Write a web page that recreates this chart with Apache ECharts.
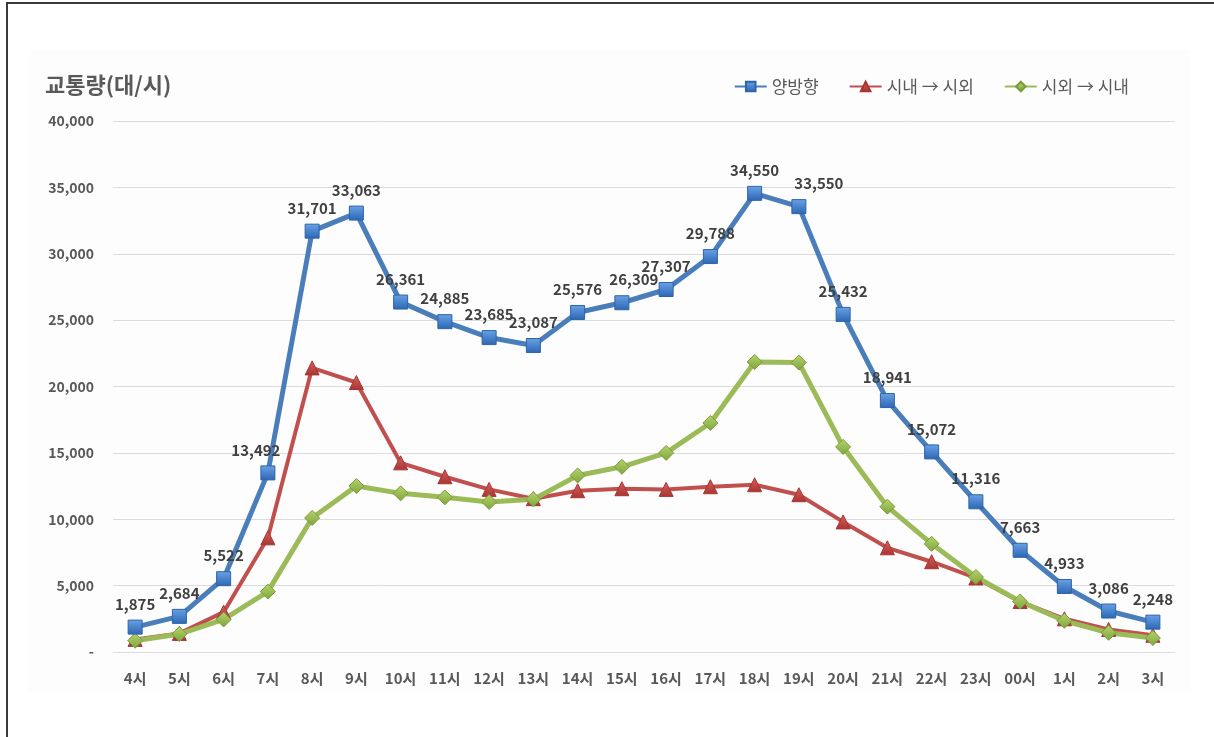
<!DOCTYPE html>
<html>
<head>
<meta charset="utf-8">
<script src="https://cdn.jsdelivr.net/npm/echarts@6/dist/echarts.min.js"></script>
<style>
  html, body { margin: 0; padding: 0; background: #fff; }
  #wrap { position: relative; width: 1214px; height: 737px; overflow: hidden; }
  #frame { position: absolute; left: 6px; top: 2px; width: 1220px; height: 760px;
           border-left: 2px solid #3a3a3a; border-top: 2px solid #3a3a3a; box-sizing: border-box; }
  #chart { position: absolute; left: 0; top: 0; width: 1214px; height: 737px; }
</style>
</head>
<body>
<div id="wrap">
  <div id="chart"></div>
  <div id="frame"></div>
</div>
<script>
// 시간대
const hours = ['4시', '5시', '6시', '7시', '8시', '9시', '10시', '11시', '12시', '13시', '14시', '15시',
  '16시', '17시', '18시', '19시', '20시', '21시', '22시', '23시', '00시', '1시', '2시', '3시'];

// 양방향 (라벨 값)
const bothWays = [1875, 2684, 5522, 13492, 31701, 33063, 26361, 24885, 23685, 23087, 25576, 26309,
  27307, 29788, 34550, 33550, 25432, 18941, 15072, 11316, 7663, 4933, 3086, 2248];

// 시내 -> 시외
const cityOut = [950, 1400, 3000, 8600, 21400, 20300, 14250, 13200, 12250, 11550, 12150, 12300,
  12250, 12450, 12600, 11850, 9800, 7850, 6800, 5580, 3800, 2500, 1700, 1260];

// 시외 -> 시내
const cityIn = [850, 1350, 2450, 4550, 10100, 12500, 11950, 11650, 11300, 11500, 13300, 13950,
  15000, 17250, 21850, 21800, 15450, 10950, 8150, 5650, 3800, 2350, 1450, 1050];

const yTicks = { min: 0, max: 40000, step: 5000 };

// 라벨 위치 보정 (원본 차트에서 옆으로 밀린 라벨)
const labelNudge = { 3: [-12, 0], 11: [12, 0], 15: [20, 0] };

const FONT = '"Noto Sans CJK KR", "Noto Sans", sans-serif';

const chart = echarts.init(document.getElementById('chart'));

const grad = (top, bottom) => new echarts.graphic.LinearGradient(0, 0, 0, 1, [
  { offset: 0, color: top }, { offset: 1, color: bottom }
]);

const blueData = bothWays.map((v, i) => {
  const item = { value: v };
  if (labelNudge[i]) item.label = { offset: labelNudge[i] };
  return item;
});

chart.setOption({
  animation: false,
  textStyle: { fontFamily: FONT },
  graphic: [{
    type: 'rect', silent: true, z: -10,
    shape: { x: 29, y: 50, width: 1162, height: 643 },
    style: { fill: '#fdfdfd' }
  }],
  title: {
    text: '교통량(대/시)',
    left: 40, top: 69,
    textStyle: { fontFamily: FONT, fontSize: 22, fontWeight: 'bold', color: '#595959' }
  },
  legend: {
    right: 80, top: 73,
    itemWidth: 32, itemHeight: 12, itemGap: 30,
    textStyle: { fontFamily: FONT, fontSize: 17, color: '#595959' },
    data: ['양방향', '시내 → 시외', '시외 → 시내']
  },
  grid: { left: 113, right: 39, top: 121, bottom: 85 },
  xAxis: {
    type: 'category',
    data: hours,
    boundaryGap: true,
    axisLine: { show: false },
    axisTick: { show: false },
    axisLabel: { margin: 19, fontSize: 15, fontWeight: 'bold', color: '#595959', fontFamily: FONT }
  },
  yAxis: {
    type: 'value',
    min: yTicks.min, max: yTicks.max, interval: yTicks.step,
    axisLine: { show: false },
    axisTick: { show: false },
    splitLine: { lineStyle: { color: '#dcdcdc', width: 1 } },
    axisLabel: {
      margin: 19, fontSize: 14, fontWeight: 'bold', color: '#595959', fontFamily: FONT,
      formatter: v => v === 0 ? '-' : v.toLocaleString('en-US')
    }
  },
  series: [
    {
      name: '양방향',
      type: 'line',
      data: blueData,
      z: 4,
      symbol: 'rect',
      symbolSize: 14,
      lineStyle: { color: '#4a7ebb', width: 5 },
      itemStyle: { color: grad('#6aa2e6', '#2b66b3'), borderColor: '#2e64a8', borderWidth: 1 },
      label: {
        show: true, position: 'top', distance: 8,
        fontFamily: FONT, fontSize: 15, fontWeight: 'bold', color: '#404040',
        formatter: p => p.value.toLocaleString('en-US')
      }
    },
    {
      name: '시내 → 시외',
      type: 'line',
      data: cityOut,
      z: 3,
      symbol: 'triangle',
      symbolSize: 14,
      lineStyle: { color: '#c0504d', width: 4 },
      itemStyle: { color: grad('#d9605c', '#a73532'), borderColor: '#a73532', borderWidth: 1 }
    },
    {
      name: '시외 → 시내',
      type: 'line',
      data: cityIn,
      z: 3,
      symbol: 'diamond',
      symbolSize: 15,
      lineStyle: { color: '#9bbb59', width: 5 },
      itemStyle: { color: grad('#b6d46f', '#7ea53a'), borderColor: '#7a9c3c', borderWidth: 1 }
    }
  ]
});
</script>
</body>
</html>
